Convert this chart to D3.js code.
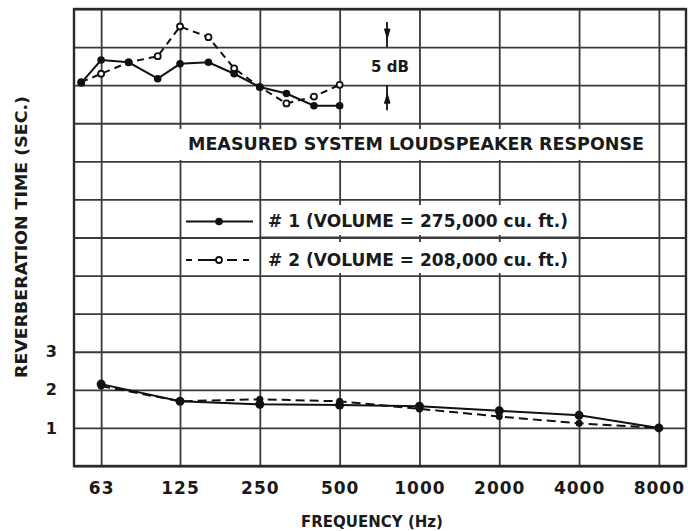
<!DOCTYPE html>
<html>
<head>
<meta charset="utf-8">
<script src="https://cdn.jsdelivr.net/npm/d3@7"></script>
<style>
  body { margin: 0; background: #fff; }
  text { font-family: "DejaVu Sans", sans-serif; font-weight: bold; fill: #1a1a1a; }
</style>
</head>
<body>
<svg id="chart_svg" width="688" height="531"></svg>
<script>
'use strict';

// octave bands, reverberation time (sec.)
const freqs = [63, 125, 250, 500, 1000, 2000, 4000, 8000];
const freqLabels = ["63", "125", "250", "500", "1000", "2000", "4000", "8000"];
const reverb1 = [2.15, 1.7, 1.62, 1.6, 1.57, 1.45, 1.33, 1.0];
const reverb2 = [2.1, 1.7, 1.75, 1.7, 1.5, 1.3, 1.12, 1.0];

// loudspeaker response, dB (5 dB per grid division)
const responseFreqs = [53, 63, 80, 103, 125, 160, 200, 250, 315, 400, 500];
const response1 = [0.3, 3.3, 3.0, 0.85, 2.8, 3.0, 1.5, -0.25, -1.1, -2.7, -2.7];
const response2 = [0.4, 1.5, 3.0, 3.8, 7.7, 6.3, 2.2, -0.25, -2.4, -1.5, 0.05];

const yTicks = d3.range(0, 13);
const yLabels = [1, 2, 3];

const svg = d3.select("#chart_svg"),
  margin = {top: 9, right: 2, bottom: 65, left: 74},
  width = 688 - margin.left - margin.right,
  height = 531 - margin.top - margin.bottom,
  g = svg.append("g").attr("transform", "translate(" + margin.left + "," + margin.top + ")");

const x = d3.scaleLog().base(2)
  .domain([63 / 2 ** 0.34, 8000 * 2 ** 0.34])
  .range([0, width]);
const y = d3.scaleLinear().domain([0, 12]).range([height, 0]);
const yDb = d3.scaleLinear().domain([-50, 10]).range([height, 0]);

const ink = "#3a3a3a";

// grid
g.append("g")
  .attr("transform", "translate(0," + height + ")")
  .call(d3.axisBottom(x).tickValues(freqs).tickSize(-height).tickFormat(""))
  .call(a => a.select(".domain").remove())
  .selectAll("line").attr("stroke", ink).attr("stroke-width", 1.8);

g.append("g")
  .call(d3.axisLeft(y).tickValues(yTicks).tickSize(-width).tickFormat(""))
  .call(a => a.select(".domain").remove())
  .selectAll("line").attr("stroke", ink).attr("stroke-width", 1.8);

g.append("rect")
  .attr("width", width).attr("height", height)
  .attr("fill", "none").attr("stroke", "#2a2a2a").attr("stroke-width", 2.4);

// tick labels
g.append("g")
  .attr("transform", "translate(0," + height + ")")
  .call(d3.axisBottom(x).tickValues(freqs).tickSize(0).tickPadding(16)
    .tickFormat((d, i) => freqLabels[i]))
  .call(a => a.select(".domain").remove())
  .selectAll("text")
    .style("font-size", "17px").style("letter-spacing", "1px")
    .attr("fill", "#1a1a1a");

g.append("g")
  .call(d3.axisLeft(y).tickValues(yLabels).tickSize(0).tickPadding(17))
  .call(a => a.select(".domain").remove())
  .selectAll("text")
    .style("font-size", "16px").attr("fill", "#1a1a1a");

// axis titles
svg.append("text")
  .attr("x", 372).attr("y", 527)
  .attr("text-anchor", "middle")
  .style("font-size", "15px")
  .text("FREQUENCY (Hz)");

svg.append("text")
  .attr("transform", "translate(27,237) rotate(-90)")
  .attr("text-anchor", "middle")
  .attr("textLength", 282).attr("lengthAdjust", "spacingAndGlyphs")
  .style("font-size", "15px")
  .text("REVERBERATION TIME (SEC.)");

// annotation boxes
const notes = [
  {x: 104, y: 120, w: 474, h: 31, text: "MEASURED SYSTEM LOUDSPEAKER RESPONSE", tx: 114, ty: 141, len: 456},
  {x: 189, y: 196, w: 312, h: 30, text: "# 1  (VOLUME = 275,000 cu. ft.)", tx: 194, ty: 218, len: 300},
  {x: 189, y: 233, w: 312, h: 31, text: "# 2  (VOLUME = 208,000 cu. ft.)", tx: 194, ty: 257, len: 300}
];
notes.forEach(n => {
  g.append("rect").attr("x", n.x).attr("y", n.y).attr("width", n.w).attr("height", n.h).attr("fill", "#fff");
  g.append("text").attr("x", n.tx).attr("y", n.ty)
    .attr("textLength", n.len).attr("lengthAdjust", "spacingAndGlyphs")
    .style("font-size", "17px").text(n.text);
});
// redraw horizontal grid lines that run between the legend rows
g.append("line").attr("x1", 185).attr("x2", 505)
  .attr("y1", y(6)).attr("y2", y(6)).attr("stroke", ink).attr("stroke-width", 1.8);

// legend samples
const legendY = [212.5, 251];
g.append("line").attr("x1", 112).attr("x2", 179).attr("y1", legendY[0]).attr("y2", legendY[0])
  .attr("stroke", "#111").attr("stroke-width", 2);
g.append("circle").attr("cx", 145).attr("cy", legendY[0]).attr("r", 3.8).attr("fill", "#111");
g.append("line").attr("x1", 112).attr("x2", 183).attr("y1", legendY[1]).attr("y2", legendY[1])
  .attr("stroke", "#111").attr("stroke-width", 2).attr("stroke-dasharray", "6,6,23,6,10");
g.append("circle").attr("cx", 145).attr("cy", legendY[1]).attr("r", 3)
  .attr("fill", "#fff").attr("stroke", "#111").attr("stroke-width", 1.8);

// 5 dB scale bar
const barX = 313;
const bar = g.append("g").attr("fill", "#111").attr("stroke", "#111");
bar.append("line").attr("x1", barX).attr("x2", barX).attr("y1", yDb(5) - 25).attr("y2", yDb(5)).attr("stroke-width", 1.8);
bar.append("path").attr("d", d3.line()([[barX - 3, yDb(5) - 18], [barX + 3, yDb(5) - 18], [barX, yDb(5) - 8]]));
bar.append("line").attr("x1", barX).attr("x2", barX).attr("y1", yDb(0)).attr("y2", yDb(0) + 25).attr("stroke-width", 1.8);
bar.append("path").attr("d", d3.line()([[barX - 3, yDb(0) + 18], [barX + 3, yDb(0) + 18], [barX, yDb(0) + 8]]));
g.append("text")
  .attr("x", (yDb(0) + yDb(5)) / 2).attr("x", 316).attr("y", (yDb(0) + yDb(5)) / 2 + 6)
  .attr("text-anchor", "middle").style("font-size", "15px")
  .text("5 dB");

// data lines
const lineR = d3.line().x((d, i) => x(freqs[i])).y(d => y(d));
const lineDb = d3.line().x((d, i) => x(responseFreqs[i])).y(d => yDb(d));

const series = [
  {vals: reverb2, line: lineR, fx: freqs, sy: y, dash: "9,5", open: false, r: 3.5},
  {vals: reverb1, line: lineR, fx: freqs, sy: y, dash: null, open: false, r: 4.5},
  {vals: response2, line: lineDb, fx: responseFreqs, sy: yDb, dash: "7,5", open: true, r: 3},
  {vals: response1, line: lineDb, fx: responseFreqs, sy: yDb, dash: null, open: false, r: 3.8}
];

series.forEach(s => {
  g.append("path")
    .attr("d", s.line(s.vals))
    .attr("fill", "none").attr("stroke", "#111").attr("stroke-width", 2)
    .attr("stroke-dasharray", s.dash);
  g.selectAll(null)
    .data(s.vals)
    .enter().append("circle")
      .attr("cx", (d, i) => x(s.fx[i]))
      .attr("cy", d => s.sy(d))
      .attr("r", s.r)
      .attr("fill", s.open ? "#fff" : "#111")
      .attr("stroke", "#111").attr("stroke-width", s.open ? 1.8 : 0);
});
</script>
</body>
</html>
